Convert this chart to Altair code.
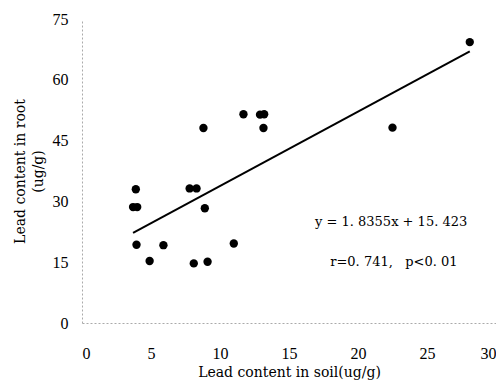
import altair as alt
import pandas as pd

soil = [3.7, 4.0, 3.9, 3.95, 4.9, 5.9, 7.8, 8.3, 8.8, 8.9, 8.1, 9.1, 11.0, 11.7, 12.9, 13.2, 13.15, 22.5, 28.1]
root = [28.6, 28.6, 33.0, 19.3, 15.3, 19.2, 33.2, 33.2, 48.1, 28.3, 14.7, 15.1, 19.6, 51.5, 51.4, 51.5, 48.1, 48.2, 69.3]

slope, intercept = 1.8355, 15.423
x_ticks = [0, 5, 10, 15, 20, 25, 30]
y_ticks = [0, 15, 30, 45, 60, 75]
eq_lines = ["y = 1. 8355x + 15. 423", "r=0. 741,\u00a0\u00a0 p<0. 01"]
eq_x = [22.4, 22.6]
eq_y = [24.9, 15.1]

pts = pd.DataFrame({"soil": soil, "root": root})
xmin, xmax = min(soil), max(soil)
fit = pd.DataFrame({"soil": [xmin, xmax], "root": [slope * xmin + intercept, slope * xmax + intercept]})
ann = pd.DataFrame({"t": eq_lines, "x": eq_x, "y": eq_y})

xs = alt.Scale(domain=[0, 30], nice=False, zero=False)
ys = alt.Scale(domain=[0, 75], nice=False, zero=False)

serif = "Liberation Serif, Times New Roman, serif"
xaxis = alt.Axis(values=x_ticks, title="Lead content in soil(ug/g)", grid=False, ticks=False,
                 domainColor="#aaaaaa", domainDash=[2, 2], labelPadding=22,
                 labelFont=serif, labelFontSize=16, labelColor="black",
                 titleFont="DejaVu Serif", titleFontSize=14, titleFontWeight="normal",
                 titleColor="black", titlePadding=4)
yaxis = alt.Axis(values=y_ticks, title=["Lead content in root", "(ug/g)"], grid=False, ticks=False,
                 domainColor="#aaaaaa", domainDash=[2, 2], labelPadding=14,
                 labelFont=serif, labelFontSize=16, labelColor="black",
                 titleFont="DejaVu Serif", titleFontSize=14, titleFontWeight="normal",
                 titleColor="black", titlePadding=7, titleLineHeight=18)

points = alt.Chart(pts).mark_circle(size=70, color="black", opacity=1).encode(
    x=alt.X("soil:Q", scale=xs, axis=xaxis),
    y=alt.Y("root:Q", scale=ys, axis=yaxis),
)
line = alt.Chart(fit).mark_line(color="black", strokeWidth=2).encode(
    x=alt.X("soil:Q", scale=xs), y=alt.Y("root:Q", scale=ys)
)
text = alt.Chart(ann).mark_text(font="DejaVu Serif", fontSize=13, color="black").encode(
    x=alt.X("x:Q", scale=xs), y=alt.Y("y:Q", scale=ys), text="t:N"
)

chart = (points + line + text).properties(
    width=414, height=304,
    background="white",
    autosize=alt.AutoSizeParams(type="none"),
    padding={"left": 74, "top": 11, "right": 0, "bottom": 59},
).configure_view(stroke=None)

chart.save("out.html", embed_options={"renderer": "svg", "actions": False})
